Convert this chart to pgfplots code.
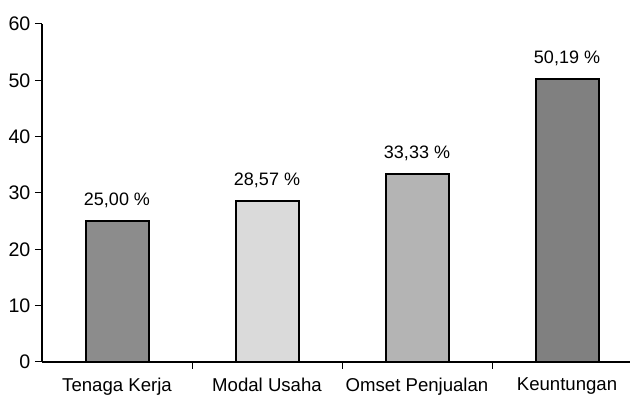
\documentclass[border=0pt]{standalone}
\usepackage{fontspec}
\setmainfont{Liberation Sans}
\usepackage{pgfplots}
\pgfplotsset{compat=1.18}
\definecolor{barA}{HTML}{8C8C8C}
\definecolor{barB}{HTML}{DADADA}
\definecolor{barC}{HTML}{B4B4B4}
\definecolor{barD}{HTML}{808080}
\begin{document}
\begin{tikzpicture}[x=1pt,y=1pt]
\useasboundingbox (-21,-21.5) rectangle (294,181);
\begin{axis}[
  at={(0pt,0pt)}, anchor=south west,
  scale only axis, width=295.5pt, height=169pt,
  xmin=-0.5, xmax=3.44, ymin=0, ymax=60,
  axis x line=bottom, axis y line=left,
  axis line style={-, black, line width=0.6pt},
  ytick={0,10,...,60},
  xtick={0.5,1.5,2.5}, xticklabels={},
  extra x ticks={0,1,2,3},
  extra x tick labels={Tenaga Kerja,Modal Usaha,Omset Penjualan,Keuntungan},
  extra x tick style={major tick length=0pt},
  tick align=outside, major tick length=3.5pt,
  tick style={black, line width=0.5pt},
  xticklabel style={font=\fontsize{9.3}{10}\selectfont, yshift=-4.5pt},
  yticklabel style={font=\fontsize{9.8}{11}\selectfont, xshift=1.2pt},
  /pgf/number format/assume math mode=true,
  ybar, bar width=0.42, bar shift=0pt,
  nodes near coords style={anchor=south, yshift=3pt, font=\fontsize{9}{10}\selectfont},
]
\addplot[fill=barA, draw=black, line width=1pt, nodes near coords={25,00 \%}] coordinates {(0,25)};
\addplot[fill=barB, draw=black, line width=1pt, nodes near coords={28,57 \%}] coordinates {(1,28.57)};
\addplot[fill=barC, draw=black, line width=1pt, nodes near coords={33,33 \%}] coordinates {(2,33.33)};
\addplot[fill=barD, draw=black, line width=1pt, nodes near coords={50,19 \%}] coordinates {(3,50.19)};
\end{axis}
\end{tikzpicture}
\end{document}
